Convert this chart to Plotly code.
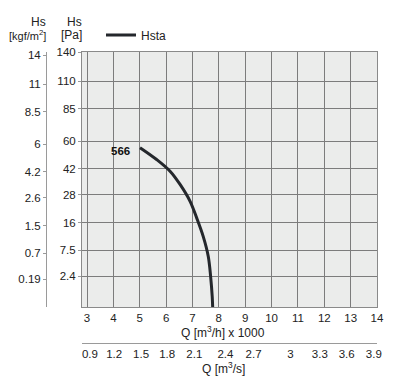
import numpy as np
import plotly.graph_objects as go

# ---- data ----
q_flow = [5.01, 5.64, 6.15, 6.53, 6.91, 7.16, 7.41, 7.60, 7.69, 7.75, 7.77]   # Q [m3/h] x 1000
hs_pa = [55.4, 47.6, 40.5, 33.1, 24.8, 17.8, 11.3, 6.0, 2.3, 0.36, 0.0]       # Hs [Pa]
curve_name = "Hsta"
curve_label = "566"

pa_ticks = [140, 110, 85, 60, 42, 28, 16, 7.5, 2.4]
pa_text = ["140", "110", "85", "60", "42", "28", "16", "7.5", "2.4"]
kgf_text = ["14", "11", "8.5", "6", "4.2", "2.6", "1.5", "0.7", "0.19"]

q_ticks = list(range(3, 15))
q_s_pos = [3.11, 4.03, 5.05, 6.04, 7.07, 8.25, 9.32, 10.72, 11.83, 12.85, 13.88]
q_s_text = ["0.9", "1.2", "1.5", "1.8", "2.1", "2.4", "2.7", "3", "3.3", "3.6", "3.9"]

# square-root pressure scale
s_curve = np.sqrt(hs_pa)
s_ticks = np.sqrt(pa_ticks)

OFF = 8  # default page margin of the html body
W, H = 403 - OFF, 384 - OFF
PL, PR, PT, PB = 40, 377, 52, 354        # paper box in page pixels
L, T = PL - OFF, PT - OFF
R, B = W - (PR - OFF), H - (PB - OFF)
pw, ph = PR - PL, PB - PT
def px(xp): return (xp - PL) / pw
def py(yp): return (PB - yp) / ph

FONT = "Liberation Sans, Arial, sans-serif"
TXT = "#222222"
GRID = "#7c7c7c"

y_rng = [0.13, float(np.sqrt(140))]
shift = 0.14
x_rng = [2.81, 14]

fig = go.Figure()
fig.add_trace(go.Scatter(
    x=q_flow, y=s_curve, mode="lines", name=curve_name,
    line=dict(color="#24272c", width=3, shape="spline", smoothing=1.0),
    hoverinfo="skip",
))
# invisible carrier trace so the secondary axes are drawn
fig.add_trace(go.Scatter(
    x=q_flow, y=s_curve, xaxis="x2", yaxis="y2", mode="lines",
    line=dict(color="rgba(0,0,0,0)", width=0), showlegend=False, hoverinfo="skip",
))

fig.add_annotation(x=q_flow[0], y=s_curve[0], xref="x", yref="y", text="<b>" + curve_label + "</b>",
                   showarrow=False, xanchor="right", yanchor="middle", xshift=-8, yshift=-3,
                   font=dict(size=11.5, color="#111111", family=FONT))

# axis titles
for txt, xp, yp, fs in [("Hs", 48, 22, 12), ("[kgf/m<sup>2</sup>]", 48, 35, 11),
                        ("Hs", 84, 22, 12), ("[Pa]", 84, 35, 12)]:
    fig.add_annotation(x=px(xp), y=py(yp), xref="paper", yref="paper", text=txt, showarrow=False,
                       xanchor="right", yanchor="middle", font=dict(size=fs, color=TXT, family=FONT))
fig.add_annotation(x=px(223), y=py(332), xref="paper", yref="paper", text="Q [m<sup>3</sup>/h] x 1000",
                   showarrow=False, xanchor="center", yanchor="middle", font=dict(size=12, color=TXT, family=FONT))
fig.add_annotation(x=px(223), y=py(368), xref="paper", yref="paper", text="Q [m<sup>3</sup>/s]",
                   showarrow=False, xanchor="center", yanchor="middle", font=dict(size=12, color=TXT, family=FONT))

x_dom = [px(82), 1.0]
y_dom = [py(307), 1.0]

fig.update_layout(
    width=W, height=H,
    margin=dict(l=L, r=R, t=T, b=B, pad=0, autoexpand=False),
    paper_bgcolor="white", plot_bgcolor="#ebeceb",
    font=dict(family=FONT, size=11.5, color=TXT),
    showlegend=True,
    legend=dict(x=px(101), y=py(35), xanchor="left", yanchor="middle", orientation="h",
                bgcolor="rgba(0,0,0,0)", font=dict(size=12, color=TXT, family=FONT)),
    xaxis=dict(domain=x_dom, range=x_rng, tickvals=q_ticks, ticktext=[str(v) for v in q_ticks],
               showgrid=True, gridcolor=GRID, gridwidth=1, zeroline=False,
               showline=True, linecolor="#8a8a8a", linewidth=1, mirror=True,
               ticks="", ticklen=0),
    yaxis=dict(domain=y_dom, range=y_rng, tickvals=s_ticks, ticktext=pa_text,
               showgrid=True, gridcolor=GRID, gridwidth=1, zeroline=False,
               showline=True, linecolor="#8a8a8a", linewidth=1, mirror=True,
               ticks="outside", ticklen=3, tickcolor="#9a9a9a"),
    yaxis2=dict(overlaying="y", anchor="free", position=px(46), side="left",
                range=[y_rng[0] + shift, y_rng[1] + shift], tickvals=s_ticks, ticktext=kgf_text,
                showgrid=False, zeroline=False, showline=True, linecolor="#9a9a9a", linewidth=1,
                ticks="outside", ticklen=3, tickcolor="#9a9a9a"),
    xaxis2=dict(overlaying="x", anchor="free", position=py(343), side="bottom",
                range=x_rng, tickvals=q_s_pos, ticktext=q_s_text,
                showgrid=False, zeroline=False, showline=True, linecolor="#9a9a9a", linewidth=1,
                ticks="", ticklen=0),
)

fig.write_html("out.html")
